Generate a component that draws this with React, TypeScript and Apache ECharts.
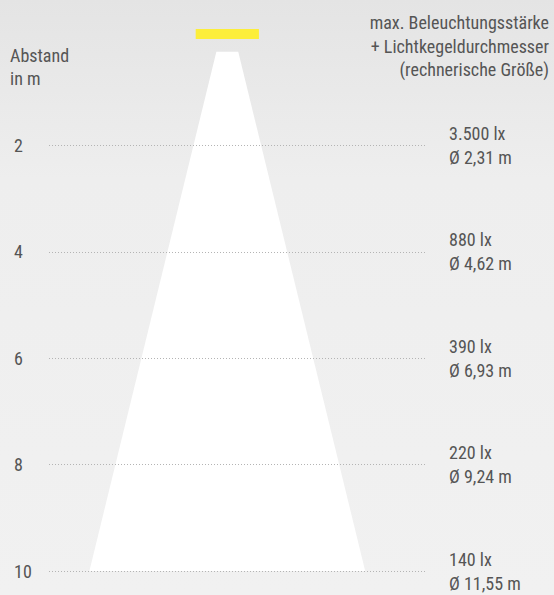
import React, { useEffect, useRef } from "react";
import * as echarts from "echarts";

const distances = [2, 4, 6, 8, 10];
const illuminance = ["3.500 lx", "880 lx", "390 lx", "220 lx", "140 lx"];
const diameters = ["Ø 2,31 m", "Ø 4,62 m", "Ø 6,93 m", "Ø 9,24 m", "Ø 11,55 m"];
// cone: [distance top, half width top (m), distance bottom, half width bottom (m)]
const cone = [0.24, 0.46, 10, 5.8];
// lamp: [distance top, distance bottom, half width]
const lamp = [-0.19, 0, 1.33];
const leftTitle = ["Abstand", "in m"];
const rightTitle = ["max. Beleuchtungsstärke", "+ Lichtkegeldurchmesser", "(rechnerische Größe)"];

const FONT = "'Roboto Condensed', 'Liberation Sans Narrow', Roboto, sans-serif";
const TXT = "#555555";
const FS = 18;

export default function App() {
  const ref = useRef<HTMLDivElement>(null);
  useEffect(() => {
    const chart = echarts.init(ref.current!, null, { renderer: "svg" });
    chart.setOption({
      animation: false,
      textStyle: { fontFamily: FONT },
      grid: { left: 49, right: 127, top: 39, bottom: 21 },
      xAxis: { type: "value", min: -7.5, max: 8.4, show: false },
      yAxis: [
        {
          type: "value",
          inverse: true,
          min: 0,
          max: 10,
          interval: 2,
          position: "left",
          z: 5,
          axisLine: { show: false },
          axisTick: { show: false },
          axisLabel: {
            showMinLabel: false,
            align: "left",
            margin: 35,
            fontSize: FS,
            color: TXT,
            fontFamily: FONT,
          },
          splitLine: {
            show: true,
            showMinLine: false,
            lineStyle: { color: "#b4b4b4", width: 1, type: [1, 2] },
          },
        },
        {
          type: "value",
          inverse: true,
          min: 0,
          max: 10,
          interval: 2,
          position: "right",
          axisLine: { show: false },
          axisTick: { show: false },
          splitLine: { show: false },
          axisLabel: {
            showMinLabel: false,
            align: "left",
            margin: 22,
            fontSize: FS,
            lineHeight: 24,
            color: TXT,
            fontFamily: FONT,
            formatter: (v: number) => {
              const i = distances.indexOf(v);
              return i >= 0 ? illuminance[i] + "\n" + diameters[i] : "";
            },
          },
        },
      ],
      graphic: [
        {
          type: "text",
          x: 10,
          y: 44,
          style: {
            text: leftTitle.join("\n"),
            font: `${FS}px ${FONT}`,
            lineHeight: 23,
            fill: TXT,
            align: "left",
            verticalAlign: "top",
          },
        },
        {
          type: "text",
          x: 549,
          y: 11,
          style: {
            text: rightTitle.join("\n"),
            font: `${FS}px ${FONT}`,
            lineHeight: 23.5,
            fill: TXT,
            align: "right",
            verticalAlign: "top",
          },
        },
      ],
      series: [
        {
          type: "custom",
          clip: false,
          z: 1,
          data: [[...cone, ...lamp]],
          renderItem: (params: any, api: any) => {
            const t = api.value(0), ht = api.value(1), b = api.value(2), hb = api.value(3);
            const lt = api.value(4), lb = api.value(5), lh = api.value(6);
            const p1 = api.coord([-ht, t]);
            const p2 = api.coord([ht, t]);
            const p3 = api.coord([hb, b]);
            const p4 = api.coord([-hb, b]);
            const l1 = api.coord([-lh, lt]);
            const l2 = api.coord([lh, lb]);
            return {
              type: "group",
              children: [
                {
                  type: "polygon",
                  shape: { points: [p1, p2, p3, p4] },
                  style: { fill: "#ffffff" },
                },
                {
                  type: "rect",
                  shape: { x: l1[0], y: l1[1], width: l2[0] - l1[0], height: l2[1] - l1[1] },
                  style: { fill: "#fcee3b" },
                },
              ],
            };
          },
        },
      ],
    });
    return () => chart.dispose();
  }, []);
  return (
    <div
      ref={ref}
      style={{
        position: "absolute",
        left: 0,
        top: 0,
        width: 554,
        height: 595,
        background: "linear-gradient(180deg, #e4e4e4 0%, #eeeeee 30%, #f1f1f1 100%)",
      }}
    />
  );
}
